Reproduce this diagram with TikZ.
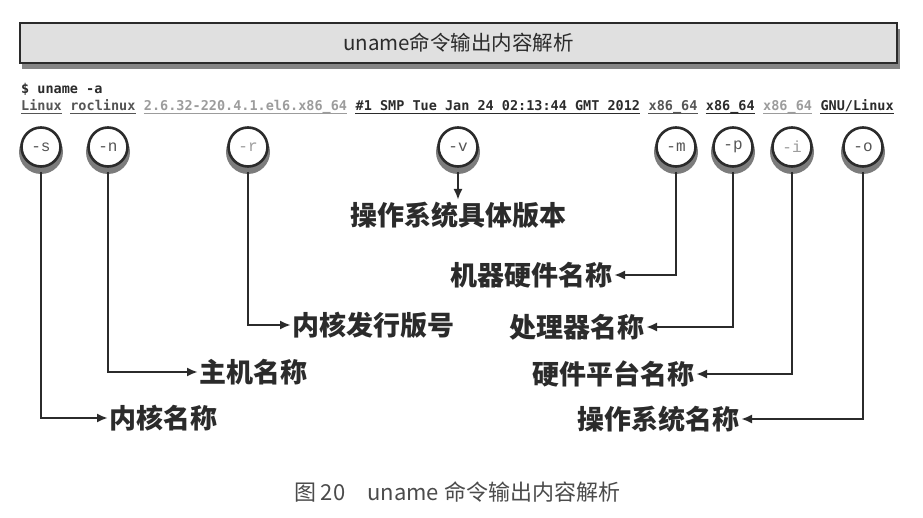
\documentclass[tikz,border=0pt]{standalone}
\usepackage{fontspec}
\setmainfont{Noto Sans CJK SC}
\newfontfamily\cjk{Noto Sans CJK SC}
\newfontfamily\monob{DejaVu Sans Mono}
\newfontfamily\courier{Liberation Mono}
\usetikzlibrary{arrows.meta,positioning}
\definecolor{ink}{HTML}{2B2B2B}
\definecolor{mid}{HTML}{555555}
\definecolor{faint}{HTML}{9C9C9C}
\definecolor{boxfill}{HTML}{E0E0E0}
\definecolor{shade}{HTML}{505050}

\begin{document}
\begin{tikzpicture}[x=1pt,y=-1pt,
optnode/.style={circle, draw=ink, line width=2.6pt, fill=white, minimum size=39pt, inner sep=0pt, font=\courier\fontsize{16}{16}\selectfont, text=mid},
descnode/.style={inner sep=1.5pt, font=\cjk\bfseries\fontsize{27}{27}\selectfont, text=ink},
outseg/.style={inner sep=0pt, anchor=base west, font=\monob\bfseries\fontsize{13.5}{14}\selectfont},
pointer/.style={draw=ink, line width=2.2pt, -{Latex[length=11pt,width=9pt]}}
]
    \useasboundingbox (0,0) rectangle (923,518);

    \fill[shade!70] (22,29) rectangle (900,69);
    \node[draw=ink, line width=1.6pt, fill=boxfill, minimum width=877pt, minimum height=40pt, font=\cjk\fontsize{20.5}{21}\selectfont, text=ink] (title) at (458.5,43){uname命令输出内容解析};

    \node[outseg, text=ink] (cmd) at (21,94){\$ uname -a};

    \node[outseg, text=mid] (o1) at (21,111){Linux};
    \node[outseg, text=mid] (o2) at ([xshift=8.13pt]o1.base east){roclinux};
    \node[outseg, text=faint] (o3) at ([xshift=8.13pt]o2.base east){2.6.32-220.4.1.el6.x86\_64};
    \node[outseg, text=ink] (o4) at ([xshift=8.13pt]o3.base east){\#1 SMP Tue Jan 24 02:13:44 GMT 2012};
    \node[outseg, text=mid] (o5) at ([xshift=8.13pt]o4.base east){x86\_64};
    \node[outseg, text=ink] (o6) at ([xshift=8.13pt]o5.base east){x86\_64};
    \node[outseg, text=faint] (o7) at ([xshift=8.13pt]o6.base east){x86\_64};
    \node[outseg, text=ink] (o8) at ([xshift=8.13pt]o7.base east){GNU/Linux};

    \foreach \seg/\col in {o1/mid,o2/mid,o3/faint,o4/ink,o5/mid,o6/ink,o7/faint,o8/ink}
        \draw[\col, line width=0.8pt] ([yshift=-2.5pt]\seg.base west) -- ([yshift=-2.5pt]\seg.base east);

    \foreach \xpos in {41,108,248,458,676,733,792,863}
        \fill[shade!75] (\xpos,152) circle (22pt);

    \node[optnode] (s) at (41,147){-s};
    \node[optnode] (n) at (108,147){-n};
    \node[optnode, text=faint] (r) at (248,147){-r};
    \node[optnode] (v) at (458,147){-v};
    \node[optnode] (m) at (676,147){-m};
    \node[optnode] (p) at (733,147){-p};
    \node[optnode, text=faint] (i) at (792,147){-i};
    \node[optnode] (o) at (863,147){-o};

    \node[descnode, anchor=west] (ls) at (108,418){内核名称};
    \node[descnode, anchor=west] (ln) at (198,372){主机名称};
    \node[descnode, anchor=west] (lr) at (291,325){内核发行版号};
    \node[descnode, anchor=north] (lv) at (458,200){操作系统具体版本};
    \node[descnode, anchor=east] (lm) at (614,275){机器硬件名称};
    \node[descnode, anchor=east] (lp) at (646,327){处理器名称};
    \node[descnode, anchor=east] (li) at (696,374){硬件平台名称};
    \node[descnode, anchor=east] (lo) at (741,419){操作系统名称};

    \draw[pointer] ([yshift=-4pt]s.south) |- (ls);
    \draw[pointer] ([yshift=-4pt]n.south) |- (ln);
    \draw[pointer] ([yshift=-4pt]r.south) |- (lr);
    \draw[pointer] ([yshift=-4pt]v.south) -- (lv);
    \draw[pointer] ([yshift=-4pt]m.south) |- (lm);
    \draw[pointer] ([yshift=-4pt]p.south) |- (lp);
    \draw[pointer] ([yshift=-4pt]i.south) |- (li);
    \draw[pointer] ([yshift=-4pt]o.south) |- (lo);

    \node[font=\cjk\fontsize{22}{22}\selectfont, text=ink!85] (caption) at (457,492){图 20\quad uname 命令输出内容解析};
\end{tikzpicture}
\end{document}
